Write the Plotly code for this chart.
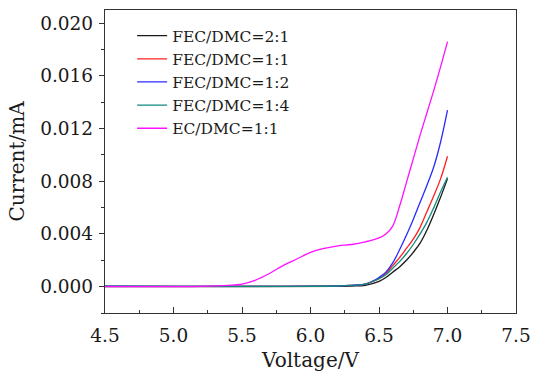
import plotly.graph_objects as go

# ---- data ----
v_fec21 = [4.5, 6.2, 6.3, 6.4, 6.5, 6.55, 6.6, 6.65, 6.7, 6.75, 6.8, 6.85, 6.9, 6.95, 7.0]
i_fec21 = [0.0, 0.00002, 0.00005, 0.0001, 0.0004, 0.0007, 0.0011, 0.0015, 0.0020, 0.0026, 0.0033, 0.0043, 0.0055, 0.0068, 0.0082]

v_fec11 = [4.5, 6.2, 6.3, 6.4, 6.5, 6.55, 6.6, 6.65, 6.7, 6.75, 6.8, 6.85, 6.9, 6.95, 7.0]
i_fec11 = [0.00003, 0.00005, 0.0001, 0.0002, 0.0006, 0.0010, 0.0016, 0.0022, 0.0029, 0.0036, 0.0045, 0.0057, 0.0069, 0.0082, 0.0099]

v_fec12 = [4.5, 6.2, 6.3, 6.4, 6.45, 6.5, 6.55, 6.6, 6.65, 6.7, 6.75, 6.8, 6.85, 6.9, 6.95, 7.0]
i_fec12 = [0.00003, 0.00005, 0.0001, 0.0002, 0.0004, 0.0007, 0.0011, 0.0018, 0.0028, 0.0039, 0.0051, 0.0064, 0.0077, 0.0091, 0.0110, 0.0134]

v_fec14 = [4.5, 6.2, 6.3, 6.4, 6.5, 6.55, 6.6, 6.65, 6.7, 6.75, 6.8, 6.85, 6.9, 6.95, 7.0]
i_fec14 = [0.00003, 0.00005, 0.0001, 0.0002, 0.0006, 0.0009, 0.0014, 0.0019, 0.0025, 0.0032, 0.0040, 0.0049, 0.0060, 0.0072, 0.0083]

v_ec11 = [4.5, 5.0, 5.2, 5.4, 5.5, 5.6, 5.7, 5.8, 5.9, 6.0, 6.1, 6.2, 6.3, 6.4, 6.5, 6.55, 6.6, 6.65, 6.7, 6.75, 6.8, 6.85, 6.9, 6.95, 7.0]
i_ec11 = [0.0, 0.0, 0.00002, 0.0001, 0.0002, 0.0005, 0.0010, 0.0016, 0.0021, 0.0026, 0.0029, 0.0031, 0.0032, 0.0034, 0.0037, 0.0040, 0.0046, 0.0061, 0.0079, 0.0097, 0.0115, 0.0132, 0.0149, 0.0167, 0.0186]

series = [
    ("FEC/DMC=2:1", v_fec21, i_fec21, "#1a1a1a"),
    ("FEC/DMC=1:1", v_fec11, i_fec11, "#ff2020"),
    ("FEC/DMC=1:2", v_fec12, i_fec12, "#2a2aff"),
    ("FEC/DMC=1:4", v_fec14, i_fec14, "#108a80"),
    ("EC/DMC=1:1", v_ec11, i_ec11, "#ff10ff"),
]

x_ticks = [4.5, 5.0, 5.5, 6.0, 6.5, 7.0, 7.5]
y_ticks = [0.000, 0.004, 0.008, 0.012, 0.016, 0.020]

fig = go.Figure()
for name, xs, ys, col in series:
    fig.add_trace(go.Scatter(x=xs, y=ys, name=name, mode="lines",
                             line=dict(color=col, width=1.3, shape="spline", smoothing=1.0)))

font_family = "DejaVu Serif"
tick_size = 18.5
title_size = 20
fig.update_layout(
    width=533, height=372,
    margin=dict(l=105, r=17, t=10, b=59),
    paper_bgcolor="white", plot_bgcolor="white",
    font=dict(family=font_family, color="#1a1a1a", size=tick_size),
    showlegend=True,
    legend=dict(x=0.066, y=0.97, xanchor="left", yanchor="top",
                font=dict(size=15.5, family=font_family),
                bgcolor="rgba(0,0,0,0)", tracegroupgap=0, itemwidth=30),
)
fig.update_xaxes(
    range=[4.5, 7.5], tickvals=x_ticks, ticktext=[f"{t:.1f}" for t in x_ticks],
    showline=True, linecolor="#333333", linewidth=1.3, mirror=True,
    ticks="inside", ticklen=6, tickwidth=1.2, tickcolor="#333333",
    minor=dict(ticks="inside", ticklen=3, dtick=0.25, tick0=4.5, tickcolor="#333333"),
    showgrid=False, zeroline=False, ticklabelstandoff=6, automargin=False,
    title=dict(text="Voltage/V", standoff=18, font=dict(size=title_size, family=font_family)),
    tickfont=dict(family=font_family, size=tick_size),
)
fig.update_yaxes(
    range=[-0.002, 0.021], tickvals=y_ticks, ticktext=[f"{t:.3f}" for t in y_ticks],
    showline=True, linecolor="#333333", linewidth=1.3, mirror=True,
    ticks="outside", ticklen=5, tickwidth=1.2, tickcolor="#333333",
    minor=dict(ticks="outside", ticklen=3, dtick=0.002, tick0=0, tickcolor="#333333"),
    showgrid=False, zeroline=False, ticklabelstandoff=2, automargin=False,
    title=dict(text="Current/mA", standoff=10, font=dict(size=title_size, family=font_family)),
    tickfont=dict(family=font_family, size=tick_size),
)

fig.write_html("out.html")
